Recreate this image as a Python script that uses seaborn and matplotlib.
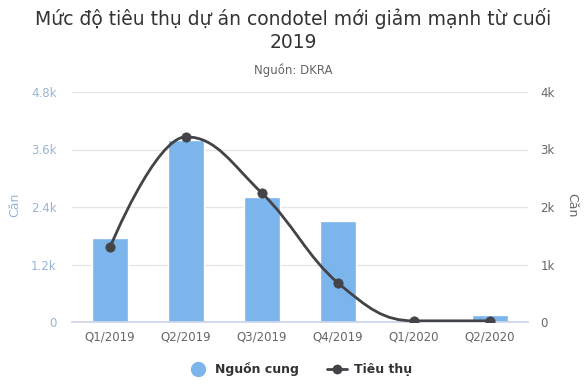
import numpy as np
import pandas as pd
import matplotlib
matplotlib.use("Agg")
import matplotlib.pyplot as plt
from matplotlib.path import Path
from matplotlib.patches import PathPatch
from matplotlib.lines import Line2D
import seaborn as sns

# ---- data ----
categories = ["Q1/2019", "Q2/2019", "Q3/2019", "Q4/2019", "Q1/2020", "Q2/2020"]
supply = [1750, 3800, 2600, 2100, 60, 150]       # Nguồn cung (left axis)
sales = [1300, 3220, 2240, 680, 20, 20]           # Tiêu thụ (right axis)
left_ticks = [0, 1200, 2400, 3600, 4800]
left_labels = ["0", "1.2k", "2.4k", "3.6k", "4.8k"]
right_ticks = [0, 1000, 2000, 3000, 4000]
right_labels = ["0", "1k", "2k", "3k", "4k"]
title = "Mức độ tiêu thụ dự án condotel mới giảm mạnh từ cuối\n2019"
subtitle = "Nguồn: DKRA"
series_names = ["Nguồn cung", "Tiêu thụ"]
axis_label = "Căn"

BAR = "#7cb5ec"
LINE = "#434348"

sns.set_theme(style="white")
plt.rcParams["font.family"] = ["DejaVu Sans"]

fig = plt.figure(figsize=(5.86, 3.87), dpi=100)
W, H = 586, 387
ax = fig.add_axes([72 / W, 1 - 322 / H, (528 - 72) / W, (322 - 92) / H])

df = pd.DataFrame({"cat": categories, "supply": supply})
sns.barplot(data=df, x="cat", y="supply", color=BAR, saturation=1,
            width=0.48, ax=ax, zorder=2)
ax.set_xlim(-0.5, len(categories) - 0.5)
ax.set_ylim(0, 4800)
ax.set_yticks(left_ticks)
ax.set_yticklabels(left_labels)
ax.yaxis.grid(True, color="#e6e6e6", linewidth=1, zorder=0)
ax.set_axisbelow(True)
for s in ["top", "right", "left"]:
    ax.spines[s].set_visible(False)
ax.spines["bottom"].set_color("#ccd6eb")
ax.tick_params(axis="y", length=0, pad=11, labelsize=8.5, labelcolor="#9ab4d4")
ax.tick_params(axis="x", length=0, pad=6, labelsize=8.5, labelcolor="#666666")
ax.set_xlabel("")
ax.set_ylabel("")

ax2 = ax.twinx()
ax2.set_ylim(0, 4000)
ax2.set_yticks(right_ticks)
ax2.set_yticklabels(right_labels)
ax2.tick_params(axis="y", length=0, pad=9, labelsize=8.5, labelcolor="#666666")
for s in ax2.spines.values():
    s.set_visible(False)

# Highcharts-style spline
xs = np.arange(len(sales), dtype=float)
ys = np.array(sales, dtype=float)
sm = 1.5
den = sm + 1
lc = [None] * len(xs)
rc = [None] * len(xs)
for i in range(len(xs)):
    if i == 0 or i == len(xs) - 1:
        lc[i] = (xs[i], ys[i]); rc[i] = (xs[i], ys[i]); continue
    lx, ly = xs[i - 1], ys[i - 1]
    nx, ny = xs[i + 1], ys[i + 1]
    px, py = xs[i], ys[i]
    lcx = (sm * px + lx) / den; lcy = (sm * py + ly) / den
    rcx = (sm * px + nx) / den; rcy = (sm * py + ny) / den
    if rcx != lcx:
        corr = ((rcy - lcy) * (rcx - px)) / (rcx - lcx) + py - rcy
        lcy += corr; rcy += corr
    if lcy > ly and lcy > py:
        lcy = max(ly, py); rcy = 2 * py - lcy
    elif lcy < ly and lcy < py:
        lcy = min(ly, py); rcy = 2 * py - lcy
    if rcy > ny and rcy > py:
        rcy = max(ny, py); lcy = 2 * py - rcy
    elif rcy < ny and rcy < py:
        rcy = min(ny, py); lcy = 2 * py - rcy
    lc[i] = (lcx, lcy); rc[i] = (rcx, rcy)
verts = [(xs[0], ys[0])]
codes = [Path.MOVETO]
for i in range(1, len(xs)):
    verts += [rc[i - 1], lc[i], (xs[i], ys[i])]
    codes += [Path.CURVE4] * 3
ax2.add_patch(PathPatch(Path(verts, codes), facecolor="none", edgecolor=LINE,
                        linewidth=2, zorder=3))
sns.scatterplot(x=xs, y=ys, color=LINE, s=45, edgecolor=LINE, ax=ax2, zorder=4,
                legend=False)

fig.text(15 / W, 1 - 205 / H, axis_label, rotation=90, ha="center", va="center",
         fontsize=9, color="#9ab4d4")
fig.text(572 / W, 1 - 205 / H, axis_label, rotation=270, ha="center", va="center",
         fontsize=9, color="#666666")

fig.text(0.5, 1 - 30 / H, title, ha="center", va="center", fontsize=13.5,
         color="#333333", linespacing=1.25)
fig.text(0.5, 1 - 70 / H, subtitle, ha="center", va="center", fontsize=8.5,
         color="#666666")

handles = [
    Line2D([], [], marker="o", linestyle="none", markersize=10,
           markerfacecolor=BAR, markeredgecolor=BAR),
    Line2D([], [], marker="o", color=LINE, linewidth=2, markersize=6),
]
leg = fig.legend(handles, series_names, loc="center", bbox_to_anchor=(300 / W, 1 - 369 / H),
                 ncol=2, frameon=False, prop={"weight": "bold", "size": 9},
                 handlelength=1.6, columnspacing=2.2, handletextpad=0.6)
for t in leg.get_texts():
    t.set_color("#333333")

fig.savefig("out.png", dpi=100)
